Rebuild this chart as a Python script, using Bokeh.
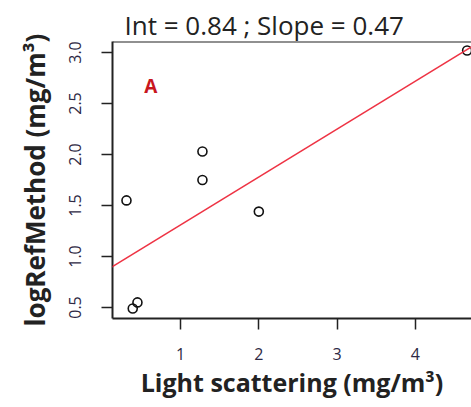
from bokeh.plotting import figure
from bokeh.models import Range1d, FixedTicker, Slope, Label, Span
from bokeh.embed import file_html
from bokeh.resources import INLINE

# data
light_scattering = [0.31, 0.39, 0.45, 1.28, 1.28, 2.00, 4.66]
log_ref_method = [1.55, 0.49, 0.55, 2.03, 1.75, 1.44, 3.02]
intercept = 0.84
slope = 0.47
x_ticks = [1, 2, 3, 4]
x_tick_labels = ["1", "2", "3", "4"]
y_ticks = [0.5, 1.0, 1.5, 2.0, 2.5, 3.0]
y_tick_labels = ["0.5", "1.0", "1.5", "2.0", "2.5", "3.0"]
title_text = "Int = 0.84 ; Slope = 0.47"
x_label = "Light scattering (mg/m³)"
y_label = "logRefMethod (mg/m³)"
panel_tag = "A"

FONT = "Open Sans"
TICK_COLOR = "#2e2944"
TEXT_COLOR = "#222222"

p = figure(width=471, height=407, output_backend="svg", toolbar_location=None,
           x_range=Range1d(0.1315, 4.716), y_range=Range1d(0.392, 3.108),
           min_border_left=112, min_border_right=0, min_border_top=41, min_border_bottom=89)

p.background_fill_color = "white"
p.border_fill_color = "white"
p.outline_line_color = None
p.xgrid.grid_line_color = None
p.ygrid.grid_line_color = None

p.title.text = title_text
p.title.text_font = FONT
p.title.text_font_size = "26px"
p.title.text_font_style = "normal"
p.title.text_color = TEXT_COLOR
p.title.align = "left"
p.title.offset = 12
p.title.standoff = -3

for ax in (p.xaxis[0], p.yaxis[0]):
    ax.axis_line_color = TEXT_COLOR
    ax.axis_line_width = 2
    ax.major_tick_line_color = TEXT_COLOR
    ax.major_tick_line_width = 1.5
    ax.major_tick_in = 0
    ax.major_tick_out = 11
    ax.minor_tick_line_color = None
    ax.major_label_text_font = FONT
    ax.major_label_text_font_size = "16px"
    ax.major_label_text_color = TICK_COLOR
    ax.axis_label_text_font = FONT
    ax.axis_label_text_font_style = "bold"
    ax.axis_label_text_color = TEXT_COLOR

p.xaxis.ticker = FixedTicker(ticks=x_ticks)
p.xaxis.major_label_overrides = dict(zip(x_ticks, x_tick_labels))
p.xaxis.axis_label = x_label
p.xaxis.axis_label_text_font_size = "25px"
p.xaxis.major_label_standoff = 18
p.xaxis.axis_label_standoff = 2

p.yaxis.ticker = FixedTicker(ticks=y_ticks)
p.yaxis.major_label_overrides = dict(zip(y_ticks, y_tick_labels))
p.yaxis.major_label_orientation = "vertical"
p.yaxis.axis_label = y_label
p.yaxis.axis_label_text_font_size = "26px"
p.yaxis.major_label_standoff = 20
p.yaxis.axis_label_standoff = 14

# top frame line
p.add_layout(Span(location=3.108, dimension="width", line_color=TEXT_COLOR, line_width=2))

# regression line
p.add_layout(Slope(gradient=slope, y_intercept=intercept, line_color="#ee3344", line_width=1.5))

p.scatter(light_scattering, log_ref_method, marker="circle", size=9,
          fill_color=None, line_color="#111111", line_width=1.6)

p.add_layout(Label(x=0.62, y=2.67, text=panel_tag, text_font=FONT, text_font_size="19px",
                   text_font_style="bold", text_color="#c8161e",
                   text_align="center", text_baseline="middle"))

open("out.html", "w").write(file_html(p, INLINE))
